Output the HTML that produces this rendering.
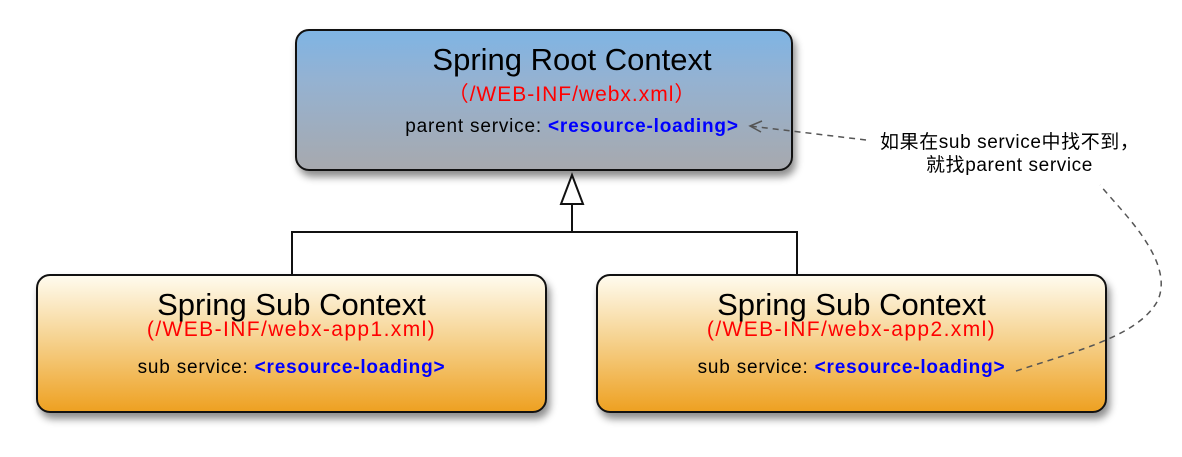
<!DOCTYPE html>
<html><head><meta charset="utf-8"><style>
body{margin:0;width:1182px;height:457px;background:#fff;position:relative;overflow:hidden;font-family:"Liberation Sans","Noto Sans CJK SC",sans-serif}
.box{position:absolute;border:2px solid #111;border-radius:14px;box-shadow:3px 6px 8px rgba(0,0,0,.45);box-sizing:border-box;text-align:center}
.root{left:295px;top:29px;width:498px;height:142px;background:linear-gradient(#7fb4e4 0%,#94b2d2 35%,#a7a9ae 100%)}
.sub{top:274px;width:511px;height:139px;background:linear-gradient(#fffbee 0%,#f6d493 45%,#eea122 100%)}
.t{position:absolute;left:0;right:0;color:#000;white-space:nowrap}
.root .t{left:56px;right:0}
.r{color:#f00}
.b{color:#00f;font-weight:bold}
.s{font-size:19px;letter-spacing:0.8px}
</style></head><body>
<div class="box root">
<div class="t" style="top:11px;font-size:31px">Spring Root Context</div>
<div class="t r" style="top:47px;font-size:21px;letter-spacing:1px">（/WEB-INF/webx.xml）</div>
<div class="t s" style="top:85px">parent service: <span class="b">&lt;resource-loading&gt;</span></div>
</div>
<div class="box sub" style="left:36px">
<div class="t" style="top:11px;font-size:31px">Spring Sub Context</div>
<div class="t r" style="top:42px;font-size:21px;letter-spacing:1.4px">(/WEB-INF/webx-app1.xml)</div>
<div class="t s" style="top:81px">sub service: <span class="b">&lt;resource-loading&gt;</span></div>
</div>
<div class="box sub" style="left:596px">
<div class="t" style="top:11px;font-size:31px">Spring Sub Context</div>
<div class="t r" style="top:42px;font-size:21px;letter-spacing:1.4px">(/WEB-INF/webx-app2.xml)</div>
<div class="t s" style="top:81px">sub service: <span class="b">&lt;resource-loading&gt;</span></div>
</div>
<svg width="1182" height="457" style="position:absolute;left:0;top:0">
<polyline points="292,274 292,232 797,232 797,274" fill="none" stroke="#111" stroke-width="2"/>
<line x1="572" y1="232" x2="572" y2="204" stroke="#111" stroke-width="2"/>
<polygon points="572,175 561,204 583,204" fill="#fff" stroke="#111" stroke-width="2"/>
<path d="M1016,371 C1080,350 1140,335 1158,300 C1175,260 1120,210 1100,185" fill="none" stroke="#555" stroke-width="1.5" stroke-dasharray="6,5"/>
<path d="M866,140 L750,126" fill="none" stroke="#555" stroke-width="1.5" stroke-dasharray="6,5"/>
<polyline points="762,121 750,126 761,132" fill="none" stroke="#555" stroke-width="1.5"/>
<text x="880" y="148" font-size="19" letter-spacing="0.6" font-family="Liberation Sans,Noto Sans CJK SC,sans-serif">如果在sub service中找不到，</text>
<text x="926" y="171" font-size="19" letter-spacing="0.6" font-family="Liberation Sans,Noto Sans CJK SC,sans-serif">就找parent service</text>
</svg>
</body></html>
